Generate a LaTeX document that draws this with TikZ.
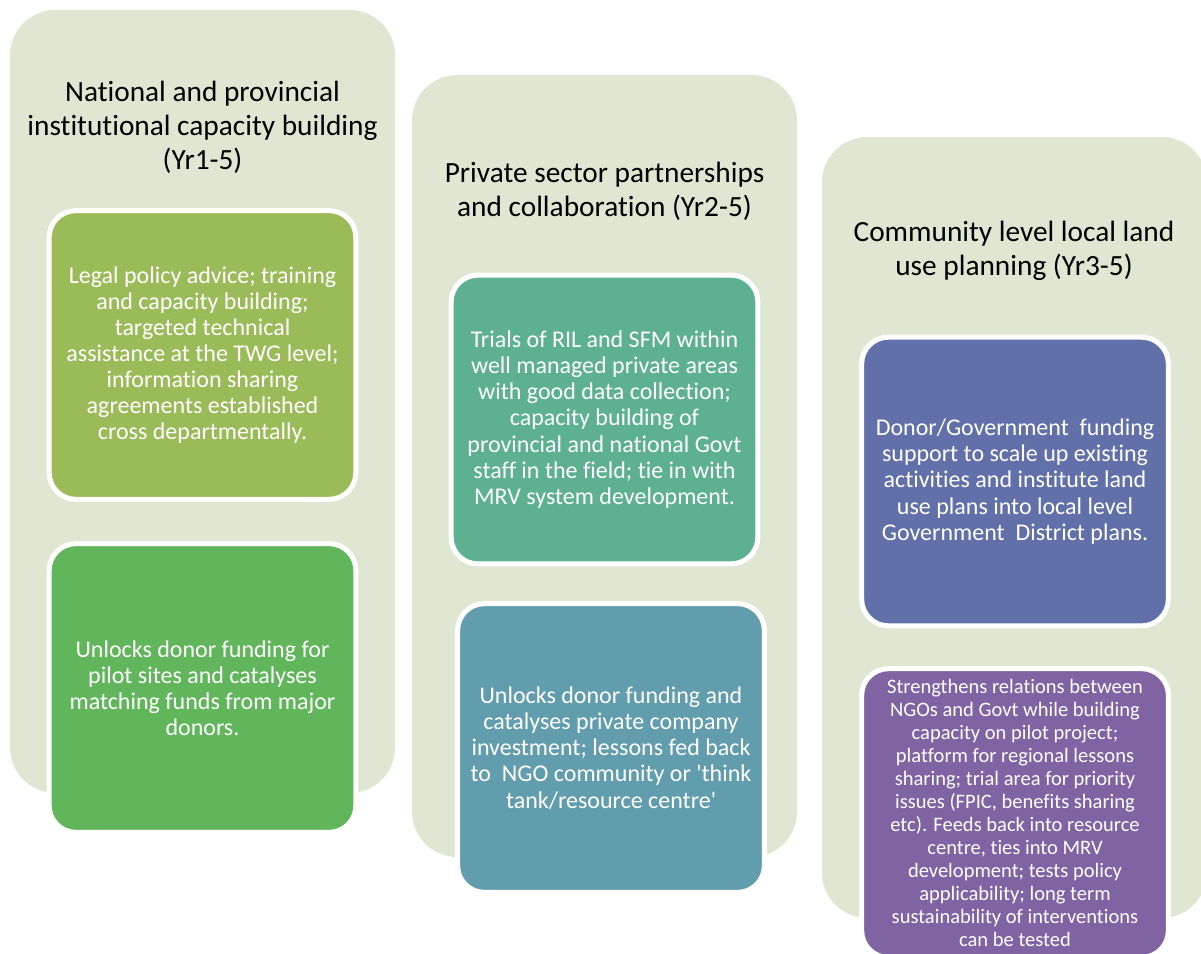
\documentclass[tikz,border=0pt]{standalone}
\usepackage{fontspec}
\setmainfont{Carlito}[Ligatures={NoCommon}]
\definecolor{panelgreen}{HTML}{DFE6D2}
\definecolor{olivecard}{HTML}{9BBB59}
\definecolor{grasscard}{HTML}{61B65C}
\definecolor{jadecard}{HTML}{5DB190}
\definecolor{tealcard}{HTML}{619DAD}
\definecolor{indigocard}{HTML}{6270A9}
\definecolor{plumcard}{HTML}{7F63A2}
\tikzset{
  phase/.style={fill=panelgreen, rounded corners=34pt},
  headline/.style={align=center, font=\fontsize{22}{25.5}\selectfont},
  card/.style={draw=white, line width=3.75pt, rounded corners=20pt,
    text=white, align=center, inner sep=0pt,
    minimum width=230pt, minimum height=216.5pt,
    font=\fontsize{18}{19.6}\selectfont},
}
\begin{document}
\begin{tikzpicture}[x=0.75pt, y=-0.75pt]
	\useasboundingbox (0,0) rectangle (1201,953);
%	three phases, one column each
	\fill[phase] (10,10) rectangle (395,793);
	\fill[phase] (412,75) rectangle (797,857);
	\fill[phase] (822,137) rectangle (1207,918);

	\node[headline] (national) at (202.5,127)
		{National and provincial\\institutional capacity building\\(Yr1-5)};
	\node[headline] (private) at (604.5,191)
		{Private sector partnerships\\and collaboration (Yr2-5)};
	\node[headline] (community) at (1014,251)
		{Community level local land\\use planning (Yr3-5)};

	\node[card, fill=olivecard] (legal) at (202.5,355)
		{Legal policy advice; training\\and capacity building;\\targeted technical\\assistance at the TWG level;\\information sharing\\agreements established\\cross departmentally.};
	\node[card, fill=grasscard] (pilot) at (202.5,688)
		{Unlocks donor funding for\\pilot sites and catalyses\\matching funds from major\\donors.};

	\node[card, fill=jadecard] (trials) at (604.5,419.5)
		{Trials of RIL and SFM within\\well managed private areas\\with good data collection;\\capacity building of\\provincial and national Govt\\staff in the field; tie in with\\MRV system development.};
	\node[card, fill=tealcard] (invest) at (611,748)
		{Unlocks donor funding and\\catalyses private company\\investment; lessons fed back\\to\ \ NGO community or \textquotesingle think\\tank/resource centre\textquotesingle};

	\node[card, fill=indigocard] (scaleup) at (1015,481.5)
		{Donor/Government\ \ funding\\support to scale up existing\\activities and institute land\\use plans into local level\\Government\ \ District plans.};
	\node[card, fill=plumcard, font=\fontsize{15.4}{17.3}\selectfont] (relations) at (1015,813)
		{Strengthens relations between\\NGOs and Govt while building\\capacity on pilot project;\\platform for regional lessons\\sharing; trial area for priority\\issues (FPIC, benefits sharing\\etc). Feeds back into resource\\centre, ties into MRV\\development; tests policy\\applicability; long term\\sustainability of interventions\\can be tested};
\end{tikzpicture}
\end{document}
